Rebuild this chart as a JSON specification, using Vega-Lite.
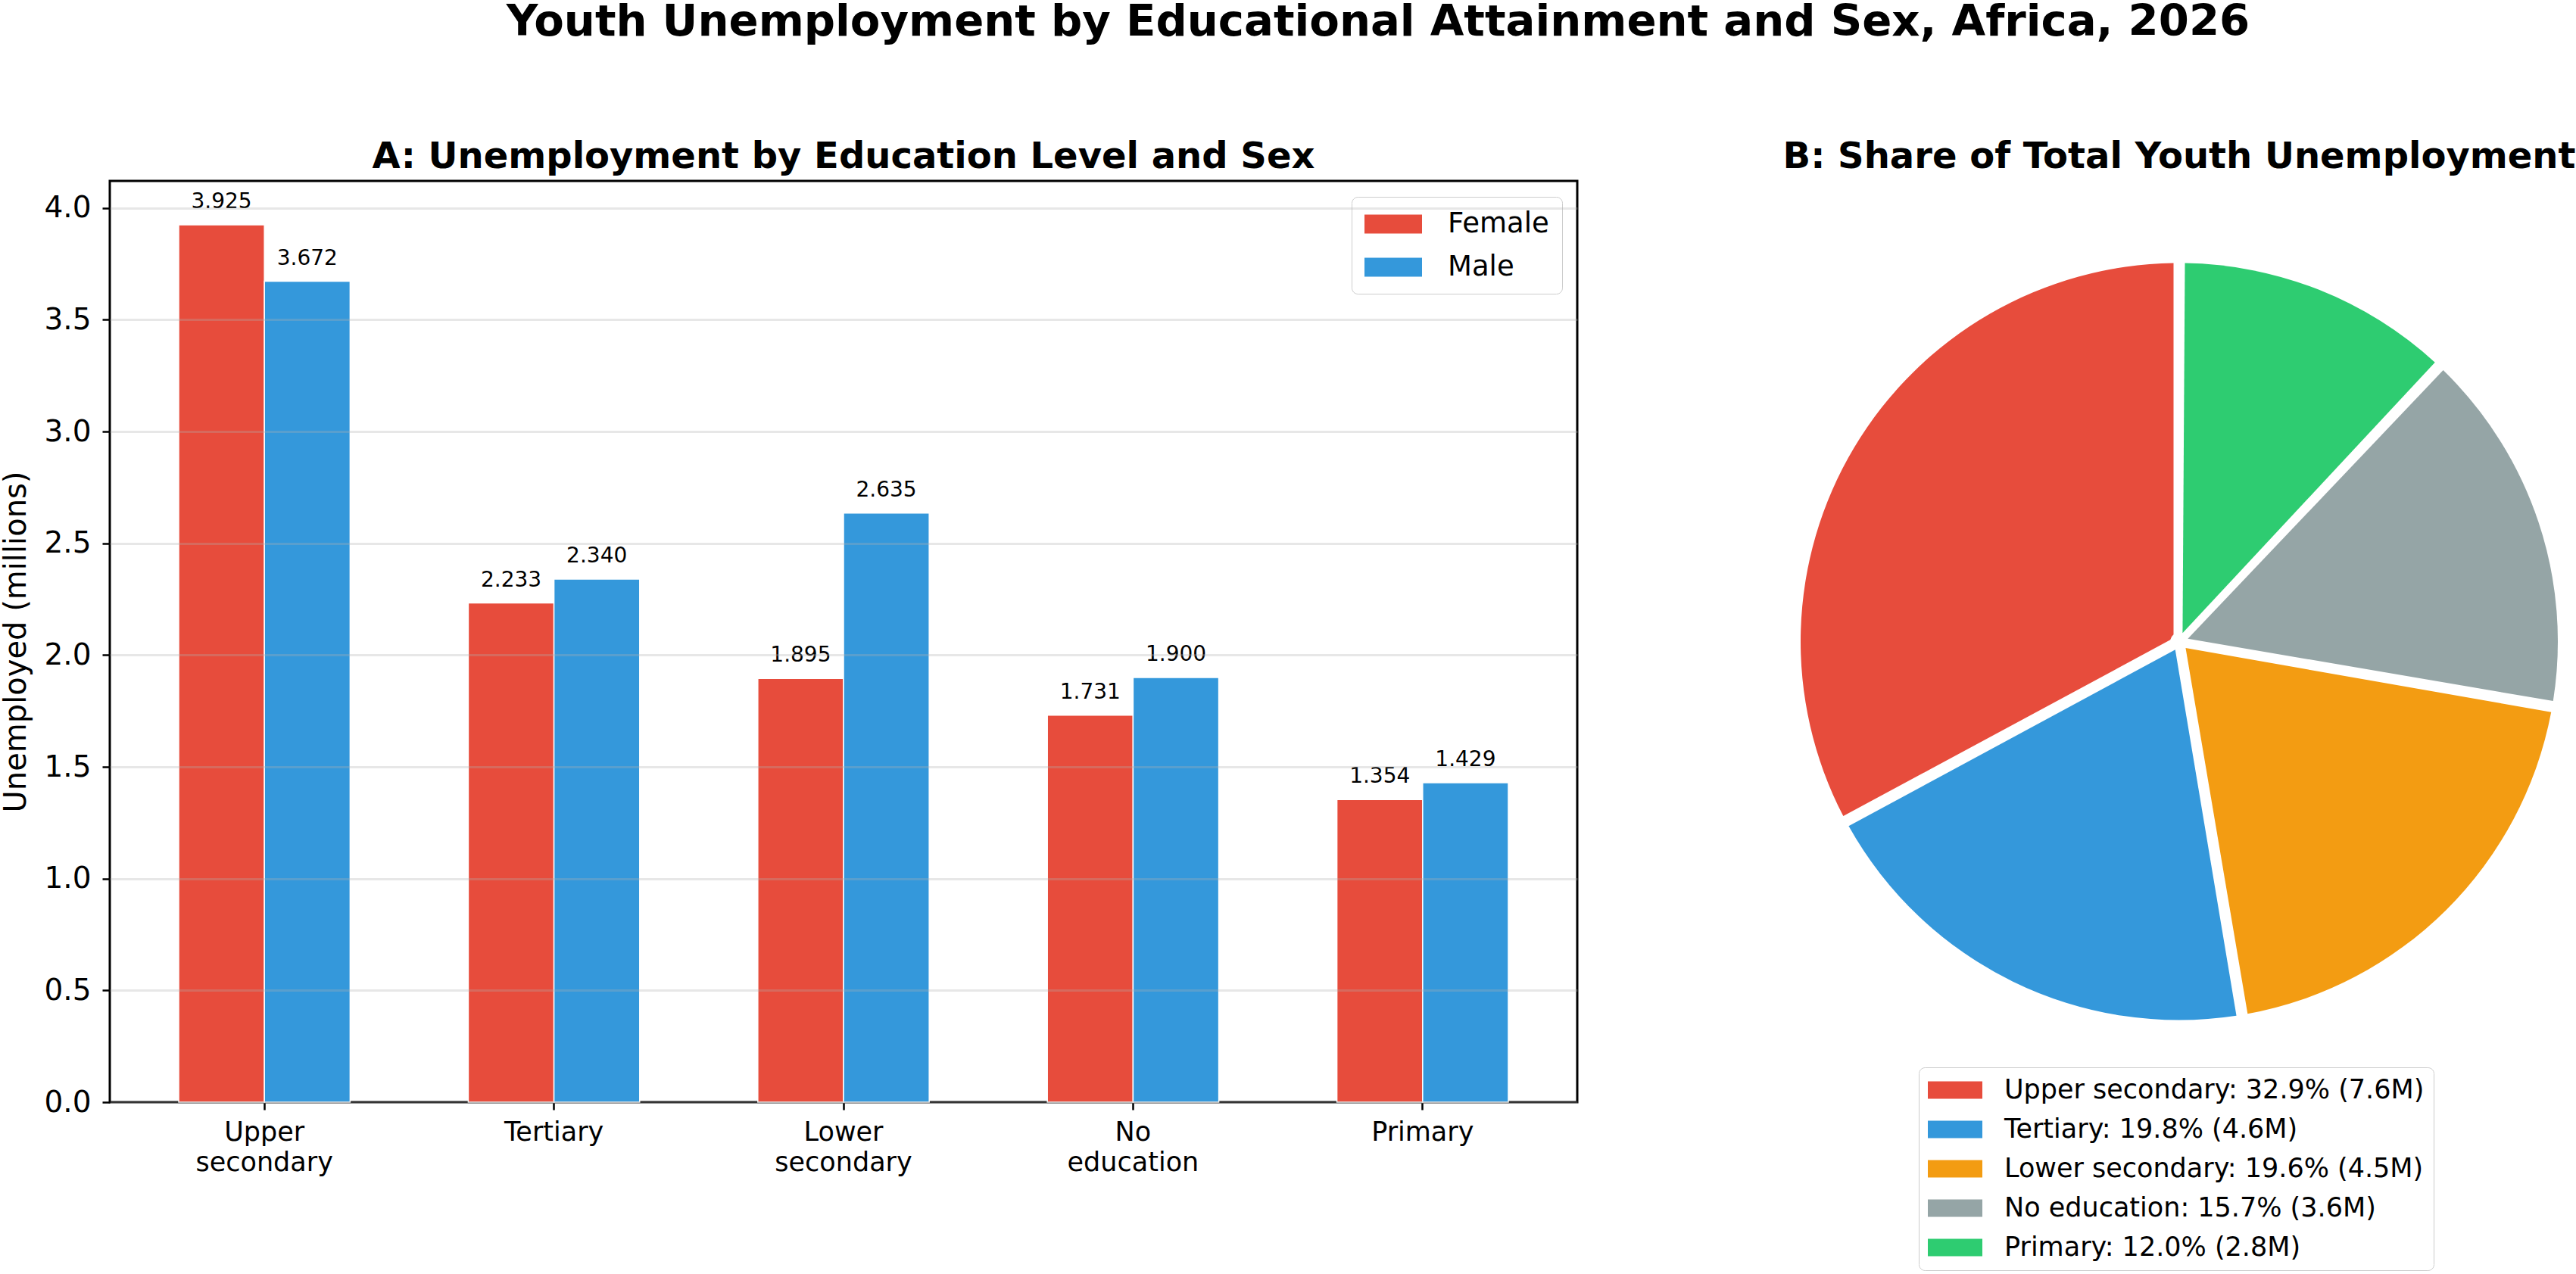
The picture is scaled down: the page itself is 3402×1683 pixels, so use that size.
{
  "$schema": "https://vega.github.io/schema/vega-lite/v6.json",
  "background": "white",
  "padding": 0,
  "title": {
    "text": "Youth Unemployment by Educational Attainment and Sex, Africa, 2026",
    "fontSize": 57.7,
    "anchor": "middle",
    "dx": 119,
    "offset": 124
  },
  "datasets": {
    "unemp": [
      {"education": "Upper secondary", "sex": "Female", "value": 3.925},
      {"education": "Upper secondary", "sex": "Male", "value": 3.672},
      {"education": "Tertiary", "sex": "Female", "value": 2.233},
      {"education": "Tertiary", "sex": "Male", "value": 2.340},
      {"education": "Lower secondary", "sex": "Female", "value": 1.895},
      {"education": "Lower secondary", "sex": "Male", "value": 2.635},
      {"education": "No education", "sex": "Female", "value": 1.731},
      {"education": "No education", "sex": "Male", "value": 1.900},
      {"education": "Primary", "sex": "Female", "value": 1.354},
      {"education": "Primary", "sex": "Male", "value": 1.429}
    ]
  },
  "bounds": "flush",
  "spacing": 295,
  "hconcat": [
    {
      "width": 1938,
      "height": 1217,
      "view": {"stroke": "black", "strokeWidth": 3},
      "title": {"text": "A: Unemployment by Education Level and Sex", "fontSize": 48, "offset": 7},
      "data": {"name": "unemp"},
      "encoding": {
        "x": {
          "field": "education",
          "type": "nominal",
          "sort": ["Upper secondary", "Tertiary", "Lower secondary", "No education", "Primary"],
          "scale": {"paddingInner": 0.408, "paddingOuter": 0.238},
          "axis": {
            "title": null,
            "labelAngle": 0,
            "labelExpr": "split(datum.label, ' ')",
            "labelFontSize": 35,
            "labelLineHeight": 40,
            "labelPadding": 12,
            "labelLimit": 1000,
            "tickSize": 10,
            "tickWidth": 2.5,
            "grid": false
          }
        },
        "xOffset": {
          "field": "sex",
          "type": "nominal",
          "scale": {"paddingInner": 0, "paddingOuter": 0}
        },
        "y": {
          "field": "value",
          "type": "quantitative",
          "scale": {"domain": [0, 4.121], "nice": false},
          "axis": {
            "title": "Unemployed (millions)",
            "titleFontSize": 40,
            "titleFontWeight": "normal",
            "titlePadding": 16,
            "values": [0, 0.5, 1, 1.5, 2, 2.5, 3, 3.5, 4],
            "format": ".1f",
            "labelFontSize": 39,
            "labelPadding": 15,
            "tickSize": 10,
            "tickWidth": 2.5,
            "grid": true,
            "gridColor": "#b0b0b0",
            "gridOpacity": 0.3,
            "gridWidth": 3,
            "zindex": 1
          }
        }
      },
      "layer": [
        {
          "mark": {"type": "bar", "stroke": "white", "strokeWidth": 1.5},
          "encoding": {
            "color": {
              "field": "sex",
              "type": "nominal",
              "scale": {"domain": ["Female", "Male"], "range": ["#e74c3c", "#3498db"]},
              "legend": {
                "title": null,
                "orient": "none",
                "legendX": 1640,
                "legendY": 21,
                "padding": 17,
                "labelFontSize": 37,
                "labelOffset": 72,
                "rowPadding": 20,
                "symbolType": "M-1,-0.66H3V0.66H-1Z",
                "symbolSize": 1444,
                "symbolStrokeWidth": 0,
                "symbolOpacity": 1,
                "strokeColor": "#cccccc",
                "cornerRadius": 8,
                "fillColor": "white"
              }
            }
          }
        },
        {
          "mark": {"type": "text", "dy": -22, "baseline": "alphabetic", "fontSize": 28, "color": "black"},
          "encoding": {"text": {"field": "value", "type": "quantitative", "format": ".3f"}}
        }
      ]
    },
    {
      "width": 1000,
      "height": 1217,
      "view": {"stroke": null},
      "title": {"text": "B: Share of Total Youth Unemployment", "fontSize": 48, "offset": 7},
      "data": {"name": "unemp"},
      "transform": [
        {"aggregate": [{"op": "sum", "field": "value", "as": "total"}], "groupby": ["education"]},
        {"joinaggregate": [{"op": "sum", "field": "total", "as": "grand"}]},
        {"calculate": "datum.education + ': ' + format(datum.total / datum.grand, '.1%') + ' (' + format(datum.total, '.1f') + 'M)'", "as": "label"}
      ],
      "mark": {"type": "arc", "radius": 500, "radius2": 12, "padAngle": 0.03},
      "encoding": {
        "theta": {"field": "total", "type": "quantitative", "stack": true},
        "order": {"field": "total", "type": "quantitative", "sort": "ascending"},
        "color": {
          "field": "label",
          "type": "nominal",
          "sort": {"field": "total", "op": "sum", "order": "descending"},
          "scale": {"range": ["#e74c3c", "#3498db", "#f39c12", "#95a5a6", "#2ecc71"]},
          "legend": {
            "title": null,
            "orient": "none",
            "legendX": 156,
            "legendY": 1171,
            "padding": 12,
            "labelFontSize": 35,
            "labelOffset": 65,
            "rowPadding": 16,
            "symbolType": "M-1,-0.64H3V0.64H-1Z",
            "symbolSize": 1296,
            "symbolStrokeWidth": 0,
            "symbolOpacity": 1,
            "strokeColor": "#cccccc",
            "cornerRadius": 8,
            "fillColor": "white",
            "labelLimit": 1000
          }
        }
      }
    }
  ],
  "resolve": {"scale": {"color": "independent"}},
  "config": {
    "font": "DejaVu Sans",
    "view": {"stroke": null},
    "axis": {
      "labelColor": "black",
      "titleColor": "black",
      "tickColor": "black",
      "domain": false,
      "labelFont": "DejaVu Sans",
      "titleFont": "DejaVu Sans"
    },
    "title": {"color": "black", "fontWeight": "bold", "font": "DejaVu Sans"},
    "legend": {"labelColor": "black", "labelFont": "DejaVu Sans"},
    "text": {"font": "DejaVu Sans"}
  }
}
